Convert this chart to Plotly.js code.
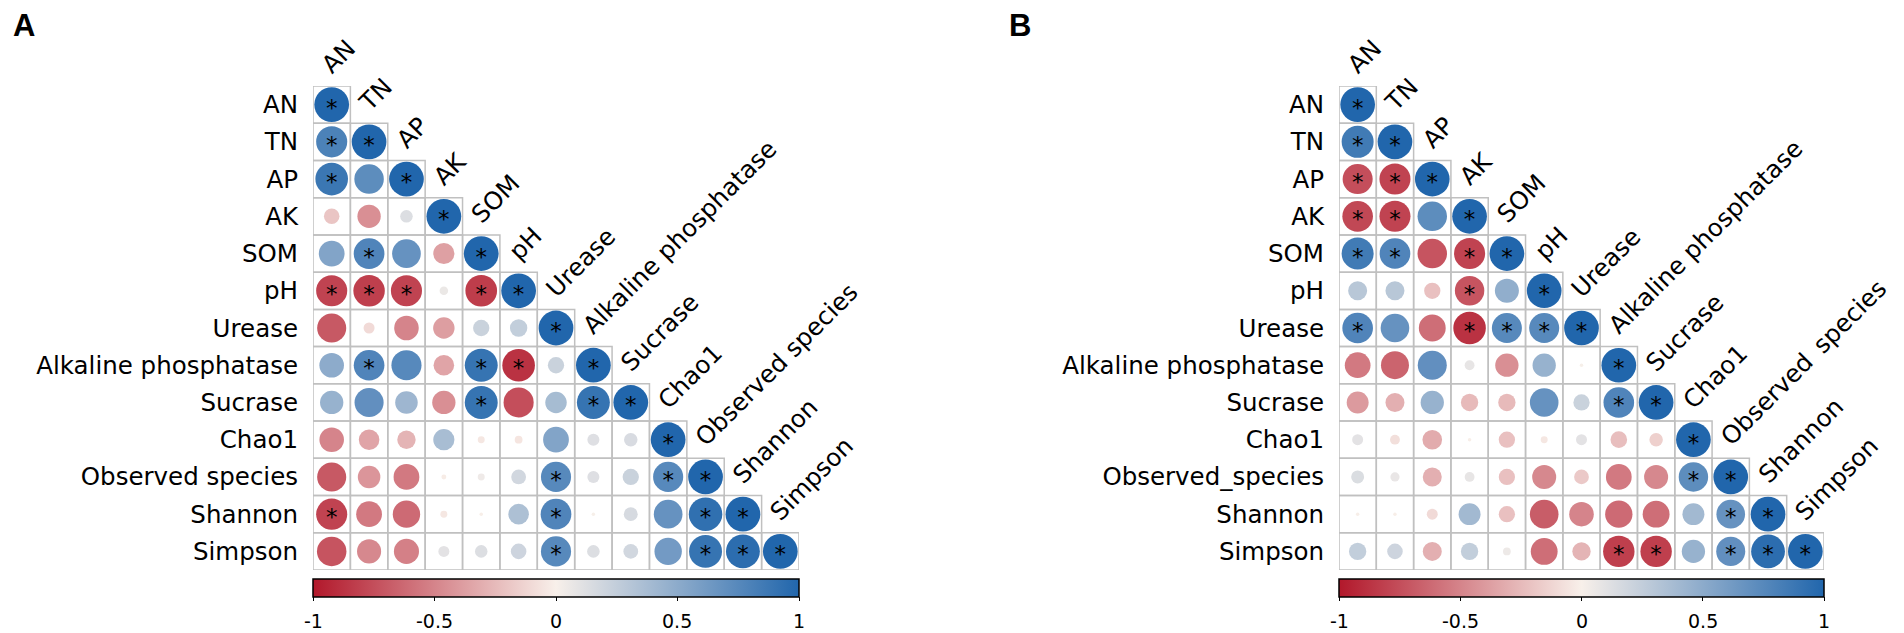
<!DOCTYPE html>
<html>
<head>
<meta charset="utf-8">
<script src="https://cdn.plot.ly/plotly-3.0.1.min.js"></script>
<style>
html,body{margin:0;padding:0;background:#fff;}
#chart{width:1904px;height:633px;}
</style>
</head>
<body>
<div id="chart"></div>
<script>
// ---------------- data ----------------
const rowsA = ["AN","TN","AP","AK","SOM","pH","Urease","Alkaline phosphatase","Sucrase","Chao1","Observed species","Shannon","Simpson"];
const colsA = ["AN","TN","AP","AK","SOM","pH","Urease","Alkaline phosphatase","Sucrase","Chao1","Observed species","Shannon","Simpson"];
const rowsB = ["AN","TN","AP","AK","SOM","pH","Urease","Alkaline phosphatase","Sucrase","Chao1","Observed_species","Shannon","Simpson"];
const colsB = ["AN","TN","AP","AK","SOM","pH","Urease","Alkaline phosphatase","Sucrase","Chao1","Observed\u2002species","Shannon","Simpson"];

// lower-triangle correlation coefficients (row i, columns 0..i)
const corrA = [
  [1],
  [0.80, 1],
  [0.88, 0.72, 1],
  [-0.20, -0.45, 0.13, 1],
  [0.55, 0.78, 0.68, -0.37, 1],
  [-0.80, -0.82, -0.80, 0.06, -0.83, 1],
  [-0.70, -0.10, -0.50, -0.38, 0.22, 0.25, 1],
  [0.50, 0.78, 0.75, -0.35, 0.90, -0.88, 0.22, 1],
  [0.45, 0.70, 0.42, -0.45, 0.90, -0.75, 0.38, 0.90, 1],
  [-0.50, -0.35, -0.28, 0.37, -0.04, -0.05, 0.55, 0.12, 0.15, 1],
  [-0.70, -0.42, -0.55, -0.02, 0.04, 0.18, 0.75, 0.12, 0.22, 0.75, 1],
  [-0.80, -0.55, -0.62, -0.04, -0.01, 0.35, 0.78, 0.01, 0.16, 0.68, 0.93, 1],
  [-0.72, -0.48, -0.52, 0.10, 0.13, 0.20, 0.75, 0.13, 0.18, 0.62, 0.90, 0.95, 1]
];
const sigA = [
  [1],
  [1,1],
  [1,0,1],
  [0,0,0,1],
  [0,1,0,0,1],
  [1,1,1,0,1,1],
  [0,0,0,0,0,0,1],
  [0,1,0,0,1,1,0,1],
  [0,0,0,0,1,0,0,1,1],
  [0,0,0,0,0,0,0,0,0,1],
  [0,0,0,0,0,0,1,0,0,1,1],
  [1,0,0,0,0,0,1,0,0,0,1,1],
  [0,0,0,0,0,0,1,0,0,0,1,1,1]
];
const corrB = [
  [1],
  [0.85, 1],
  [-0.75, -0.80, 1],
  [-0.78, -0.80, 0.72, 1],
  [0.85, 0.78, -0.72, -0.80, 1],
  [0.30, 0.30, -0.22, -0.72, 0.48, 1],
  [0.78, 0.68, -0.60, -0.88, 0.75, 0.75, 1],
  [-0.55, -0.65, 0.70, 0.08, -0.45, 0.45, 0.01, 1],
  [-0.40, -0.30, 0.45, -0.25, -0.25, 0.68, 0.22, 0.78, 1],
  [0.10, -0.08, -0.32, -0.01, -0.22, -0.04, 0.10, -0.23, -0.15, 1],
  [0.14, 0.07, -0.30, 0.08, -0.22, -0.48, -0.18, -0.55, -0.48, 0.72, 1],
  [-0.01, -0.01, -0.10, 0.40, -0.22, -0.68, -0.50, -0.62, -0.60, 0.40, 0.68, 1],
  [0.25, 0.20, -0.30, 0.25, 0.05, -0.60, -0.28, -0.82, -0.82, 0.45, 0.70, 0.95, 1]
];
const sigB = [
  [1],
  [1,1],
  [1,1,1],
  [1,1,0,1],
  [1,1,0,1,1],
  [0,0,0,1,0,1],
  [1,0,0,1,1,1,1],
  [0,0,0,0,0,0,0,1],
  [0,0,0,0,0,0,0,1,1],
  [0,0,0,0,0,0,0,0,0,1],
  [0,0,0,0,0,0,0,0,0,1,1],
  [0,0,0,0,0,0,0,0,0,0,1,1],
  [0,0,0,0,0,0,0,1,1,0,1,1,1]
];
const cbTicks = [-1, -0.5, 0, 0.5, 1];
const cbTickText = ["-1", "-0.5", "0", "0.5", "1"];
const panelLabels = ["A", "B"];

// ---------------- styling / layout ----------------
const W = 1904, H = 633;
const FONT = "DejaVu Sans";
const LABEL_SIZE = 24.5;
const STAR_SIZE = 23;
const colorscale = [
  [0, "rgb(178,24,43)"],
  [0.5, "rgb(248,240,234)"],
  [1, "rgb(33,102,172)"]
];
const panels = [
  {rows: rowsA, cols: colsA, corr: corrA, sig: sigA, xd: [313/W, 799/W], xa: "x", ya: "y", xk: "xaxis", yk: "yaxis", lx: 11/W},
  {rows: rowsB, cols: colsB, corr: corrB, sig: sigB, xd: [1339/W, 1824/W], xa: "x2", ya: "y2", xk: "xaxis2", yk: "yaxis2", lx: 1007/W}
];
const yDomain = [(H - 570)/H, (H - 86)/H];
const CB_TOP = 579, CB_LABEL_MID = 621;

const traces = [];
const shapes = [];
const annotations = [];
const layout = {
  width: W, height: H,
  margin: {l: 0, r: 0, t: 0, b: 0},
  paper_bgcolor: "#fff", plot_bgcolor: "rgba(0,0,0,0)",
  showlegend: false,
  font: {family: FONT, color: "#000"},
  shapes: shapes, annotations: annotations
};

panels.forEach((p, pi) => {
  const n = p.rows.length;
  const cellPx = (p.xd[1] - p.xd[0]) * W / n;
  const xs = [], ys = [], sz = [], cs = [], sx = [], sy = [];
  for (let i = 0; i < n; i++) {
    for (let j = 0; j <= i; j++) {
      const r = p.corr[i][j];
      xs.push(j); ys.push(i);
      sz.push(0.93 * cellPx * Math.sqrt(Math.abs(r)));
      cs.push(r);
      shapes.push({type: "rect", xref: p.xa, yref: p.ya, x0: j - 0.5, x1: j + 0.5, y0: i - 0.5, y1: i + 0.5,
        line: {color: "rgb(192,192,192)", width: 1.5}, fillcolor: "rgba(0,0,0,0)", layer: "below"});
      if (p.sig[i][j]) { sx.push(j); sy.push(i + (0.23 * STAR_SIZE) / cellPx); }
    }
  }
  traces.push({
    type: "scatter", mode: "markers", x: xs, y: ys, xaxis: p.xa, yaxis: p.ya,
    hoverinfo: "skip",
    marker: {
      size: sz, color: cs, cmin: -1, cmax: 1, colorscale: colorscale,
      line: {width: 0}, opacity: 1,
      showscale: true,
      colorbar: {
        orientation: "h", x: (p.xd[0] + p.xd[1]) / 2, xanchor: "center", xref: "paper",
        y: 1 - CB_TOP / H, yanchor: "top", yref: "paper",
        len: (p.xd[1] - p.xd[0]) * W, lenmode: "pixels",
        thickness: 18, thicknessmode: "pixels",
        outlinewidth: 1.5, outlinecolor: "#000",
        xpad: 0, ypad: 0,
        ticks: "outside", ticklen: 4, tickwidth: 1, tickcolor: "#000",
        tickmode: "array", tickvals: cbTicks, ticktext: cbTickText,
        showticklabels: false
      }
    }
  });
  // colorbar tick labels placed on the same scale as the colorbar
  cbTicks.forEach((v, k) => {
    annotations.push({xref: "paper", yref: "paper",
      x: p.xd[0] + (v + 1) / 2 * (p.xd[1] - p.xd[0]), y: 1 - CB_LABEL_MID / H,
      text: cbTickText[k], xanchor: "center", yanchor: "middle", showarrow: false,
      font: {family: FONT, size: 19, color: "#000"}});
  });
  traces.push({
    type: "scatter", mode: "text", x: sx, y: sy, xaxis: p.xa, yaxis: p.ya,
    text: sx.map(() => "*"), textposition: "middle center", hoverinfo: "skip",
    textfont: {family: FONT, size: STAR_SIZE, color: "#000"}
  });
  layout[p.xk] = {domain: p.xd, range: [-0.5, n - 0.5], showgrid: false, zeroline: false,
    showline: false, showticklabels: false, ticks: "", anchor: p.ya, fixedrange: true};
  layout[p.yk] = {domain: yDomain, range: [n - 0.5, -0.5], showgrid: false, zeroline: false,
    showline: false, ticks: "", anchor: p.xa, tickmode: "array",
    tickvals: p.rows.map((_, i) => i), ticktext: p.rows, ticklabelstandoff: 14,
    tickfont: {family: FONT, size: LABEL_SIZE, color: "#000"}, fixedrange: true};
  p.cols.forEach((c, j) => {
    annotations.push({xref: p.xa, yref: p.ya, x: j - 0.5, y: j - 0.5, text: c, textangle: -45,
      xanchor: "left", yanchor: "bottom", showarrow: false, yshift: 4,
      font: {family: FONT, size: LABEL_SIZE, color: "#000"}});
  });
  annotations.push({xref: "paper", yref: "paper", x: p.lx, y: 1 - 25 / H, text: "<b>" + panelLabels[pi] + "</b>",
    xanchor: "left", yanchor: "middle", showarrow: false,
    font: {family: "Liberation Sans", size: 31, color: "#000"}});
});

Plotly.newPlot("chart", traces, layout, {displayModeBar: false, staticPlot: true});
</script>
</body>
</html>
